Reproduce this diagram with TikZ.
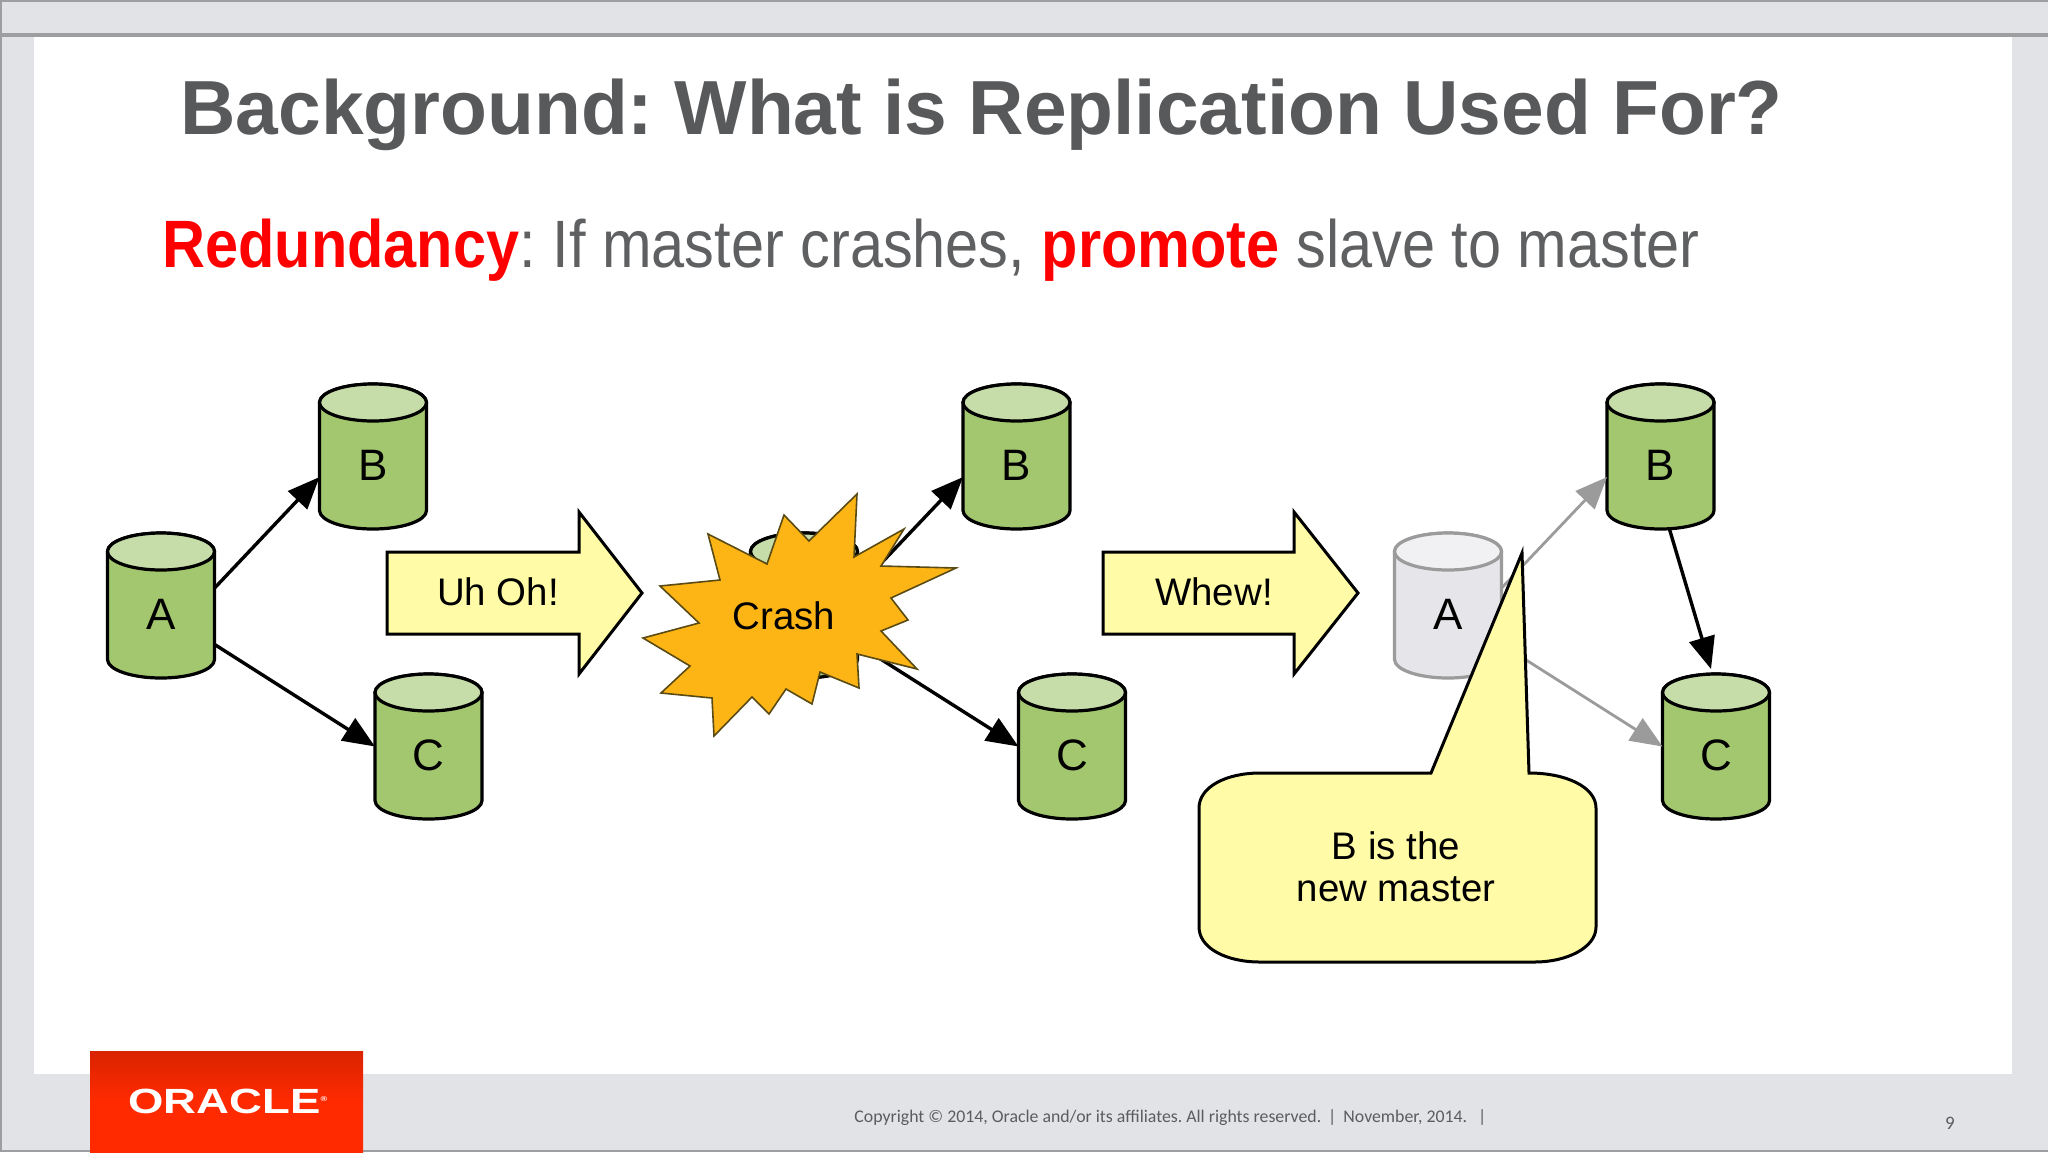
\documentclass[tikz,border=0pt]{standalone}
\usepackage{fontspec}
\setmainfont{Liberation Sans}
\newfontfamily\narrowfont[FakeStretch=0.888]{Liberation Sans}
\newfontfamily\logofont[FakeStretch=1.3]{Liberation Sans}
\newfontfamily\footfont{Carlito}
\usetikzlibrary{arrows.meta,calc}
\definecolor{framegray}{HTML}{E1E3E6}
\definecolor{edgegray}{HTML}{9C9EA0}
\definecolor{titlegray}{HTML}{58595B}
\definecolor{subgray}{HTML}{5F6062}
\definecolor{hotred}{HTML}{FF0000}
\definecolor{cylbody}{HTML}{A3C76F}
\definecolor{cyltop}{HTML}{C7DDA9}
\definecolor{ghostbody}{HTML}{E6E6EA}
\definecolor{ghosttop}{HTML}{F1F1F3}
\definecolor{ghostline}{HTML}{9B9B9B}
\definecolor{noteyellow}{HTML}{FFFBA6}
\definecolor{crashfill}{HTML}{FDB515}
\definecolor{crashline}{HTML}{5A4A14}
\definecolor{logotop}{HTML}{D92400}
\definecolor{logobot}{HTML}{FF2A00}
\definecolor{footgray}{HTML}{5A5C5E}
\tikzset{
  x=0.5pt,y=-0.5pt,
  livecyl/.style={draw=black,line width=1.6pt,fill=cylbody},
  livetop/.style={draw=black,line width=1.6pt,fill=cyltop},
  ghostcyl/.style={draw=ghostline,line width=1.6pt,fill=ghostbody},
  ghostcap/.style={draw=ghostline,line width=1.6pt,fill=ghosttop},
  cylbox/.style={minimum width=53.5pt,minimum height=72.5pt,inner sep=0pt,outer sep=0pt},
  cyltext/.style={font=\fontsize{22}{23}\selectfont,text=black,inner sep=0pt},
  linkarrow/.style={draw=black,line width=1.7pt,-{Triangle[length=16pt,width=13pt]}},
  ghostarrow/.style={draw=ghostline,line width=1.4pt,-{Triangle[length=16pt,width=13pt]}},
  notepath/.style={draw=black,line width=1.5pt,fill=noteyellow,line join=miter},
  bigtext/.style={font=\fontsize{19.2}{21}\selectfont,text=black,inner sep=0pt,align=center},
}
% name, centre x, top y, label, body style, cap style
\newcommand{\dbcyl}[6]{%
  \draw[#5] (#2-53.5,#3+18.5) -- (#2-53.5,#3+126.5)
     arc[start angle=180,end angle=360,x radius=26.75pt,y radius=9.25pt]
     -- (#2+53.5,#3+18.5)
     arc[start angle=0,end angle=180,x radius=26.75pt,y radius=9.25pt] -- cycle;
  \draw[#6] (#2,#3+18.5) ellipse[x radius=26.75pt,y radius=9.25pt];
  \node[cylbox] (#1) at (#2,#3+72.5) {};
  \node[cyltext] (#1t) at (#2,#3+81) {#4};
}
\begin{document}
\frenchspacing
\begin{tikzpicture}
\useasboundingbox (0,0) rectangle (2048,1152);
% frame
\fill[framegray] (0,0) rectangle (2048,1152);
\fill[white] (34,36) rectangle (2012,1074);
\draw[edgegray,line width=2pt] (0,35) -- (2048,35);
\draw[edgegray,line width=1pt] (0,1) -- (2048,1);
\draw[edgegray,line width=1pt] (1,0) -- (1,1152);
\draw[edgegray,line width=1pt] (0,1151) -- (2048,1151);
% logo
\shade[top color=logotop,bottom color=logobot,middle color=logobot] (90,1051) rectangle (363,1152);
\node[anchor=base west,inner sep=0pt,text=white] (logo) at (128,1113)
  {\logofont\fontsize{17.5}{18}\selectfont\bfseries ORACLE\raisebox{6pt}{\fontsize{3.5}{4}\selectfont ®}};
% title + subtitle
\node[anchor=base west,inner sep=0pt,text=titlegray] (title) at (180,134)
  {\fontsize{38.35}{42}\selectfont\bfseries Background: What is Replication Used For?};
\node[anchor=base west,inner sep=0pt,text=subgray] (sub) at (162,267)
  {\narrowfont\fontsize{33.5}{36}\selectfont {\bfseries\color{hotred}Redundancy}: If master crashes, {\bfseries\color{hotred}promote} slave to master};
% footer
\node[anchor=base west,inner sep=0pt,text=footgray] (foot) at (854,1122)
  {\footfont\fontsize{8.9}{10}\selectfont Copyright © 2014, Oracle and/or its affiliates. All rights reserved. \,|\, November, 2014. \ \,|};
\node[anchor=base,inner sep=0pt,text=footgray] (pagenum) at (1950,1129)
  {\footfont\fontsize{9.5}{10}\selectfont 9};
% panel 1
\dbcyl{Aone}{161}{533}{A}{livecyl}{livetop}
\dbcyl{Bone}{373}{384}{B}{livecyl}{livetop}
\dbcyl{Cone}{428.5}{674}{C}{livecyl}{livetop}
\draw[linkarrow] (Aone.18) -- (Bone.201);
\draw[linkarrow] (Aone.-36) -- (Cone.west);
% block arrow 1
\draw[notepath] (387,552) -- (579,552) -- (579,512) -- (642,593) -- (579,674) -- (579,634) -- (387,634) -- cycle;
\node[bigtext] (uhoh) at (498,592) {Uh Oh!};
% panel 2 (A is hidden behind the burst, so it shows no letter)
\dbcyl{Atwo}{804}{533}{}{livecyl}{livetop}
\dbcyl{Btwo}{1016.5}{384}{B}{livecyl}{livetop}
\dbcyl{Ctwo}{1072}{674}{C}{livecyl}{livetop}
\draw[linkarrow] (Atwo.18) -- (Btwo.201);
\draw[linkarrow] (Atwo.-36) -- (Ctwo.west);
\draw[draw=crashline,line width=0.8pt,fill=crashfill,line join=miter]
 (708,534) -- (767,564) -- (784,515) -- (809,541) -- (857,494) -- (854,557) -- (904,529)
 -- (881,566) -- (956,568) -- (891,598) -- (908,620) -- (881,631) -- (917,669) -- (857,654)
 -- (859,688) -- (820,672) -- (812,704) -- (786,689) -- (769,714) -- (752,697) -- (714,736)
 -- (712,698) -- (661,693) -- (690,666) -- (643,638) -- (699,623) -- (660,586) -- (720,580) -- cycle;
\node[bigtext] (crash) at (784,616) {Crash};
% block arrow 2
\draw[notepath] (1103,552) -- (1294,552) -- (1294,512) -- (1358,593) -- (1294,674) -- (1294,634) -- (1103,634) -- cycle;
\node[bigtext] (whew) at (1214,592) {Whew!};
% panel 3
\dbcyl{Athree}{1448}{533}{A}{ghostcyl}{ghostcap}
\dbcyl{Bthree}{1660.5}{384}{B}{livecyl}{livetop}
\dbcyl{Cthree}{1716}{674}{C}{livecyl}{livetop}
\draw[ghostarrow] (Athree.18) -- (Bthree.201);
\draw[ghostarrow] (Athree.-36) -- (Cthree.west);
\draw[linkarrow] (Bthree.-83) -- ($(Cthree.north)+(-5,-5)$);
% callout
\draw[notepath] (1431,773) -- (1522,553) -- (1529,773)
  .. controls (1566,773) and (1596,787) .. (1596,808)
  -- (1596,927)
  .. controls (1596,948) and (1566,962) .. (1535,962)
  -- (1260,962)
  .. controls (1226,962) and (1199,948) .. (1199,927)
  -- (1199,808)
  .. controls (1199,787) and (1226,773) .. (1260,773) -- cycle;
\node[bigtext] (note) at (1396,867) {B is the\\new master};
\end{tikzpicture}
\end{document}
